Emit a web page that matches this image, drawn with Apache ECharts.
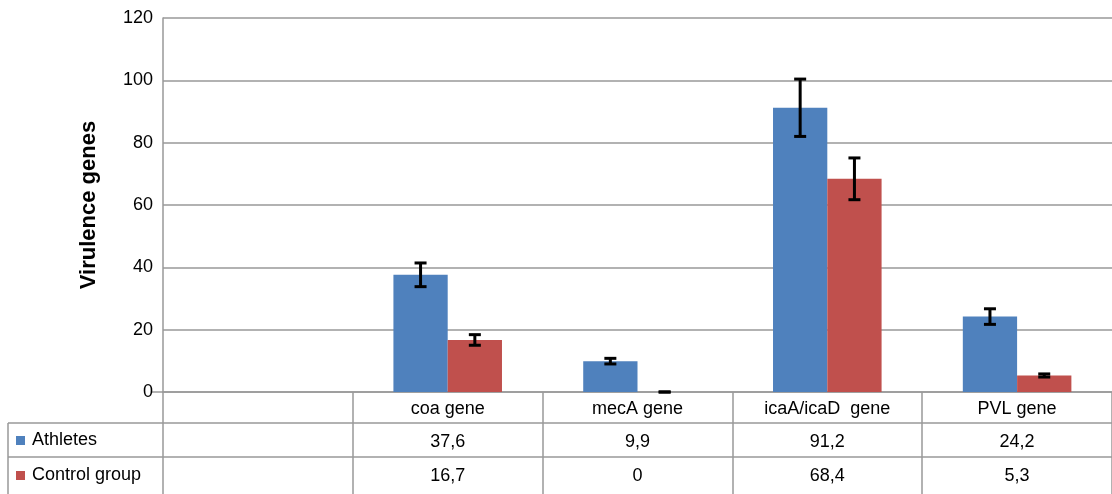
<!DOCTYPE html>
<html><head><meta charset="utf-8">
<script src="https://cdn.jsdelivr.net/npm/echarts@6/dist/echarts.min.js"></script>
<style>html,body{margin:0;padding:0;background:#fff}#c{width:1112px;height:494px}</style>
</head><body><div id="c"></div>
<script>
const categories = ['', 'coa gene', 'mecA gene', 'icaA/icaD  gene', 'PVL gene'];
const seriesNames = ['Athletes', 'Control group'];
const athletes = [null, 37.6, 9.9, 91.2, 24.2];
const control = [null, 16.7, 0, 68.4, 5.3];
const athletesErr = [null, 3.8, 0.9, 9.2, 2.5];
const controlErr = [null, 1.7, 0, 6.7, 0.5];
const yTicks = [0, 20, 40, 60, 80, 100, 120];

const BLUE = '#4f81bd', RED = '#c0504d', LINE = '#999999';
const FONT = 'Liberation Sans';
const G = {left: 163, top: 18, width: 952, height: 374};
const CAT_GAP = 0.428;
const fmt = v => v == null ? '' : String(v).replace('.', ',');

function errData(vals, errs) {
  return vals.map((v, i) => v == null ? null : [i, v - errs[i], v + errs[i]]).filter(d => d);
}
function errSeries(vals, errs, side) {
  return {
    type: 'custom', xAxisIndex: 0, yAxisIndex: 0, z: 5,
    data: errData(vals, errs),
    renderItem(params, api) {
      const i = api.value(0);
      const c = api.coord([i, 0])[0];
      const band = api.size([1, 0])[0];
      const bw = band * (1 - CAT_GAP) / 2;
      const x = c + side * bw / 2;
      const yt = api.coord([i, api.value(2)])[1];
      const yb = api.coord([i, api.value(1)])[1];
      const h = 6;
      const st = {stroke: '#000', lineWidth: 3};
      return {type: 'group', children: [
        {type: 'line', shape: {x1: x, y1: yt, x2: x, y2: yb}, style: st},
        {type: 'line', shape: {x1: x - h, y1: yt, x2: x + h, y2: yt}, style: st},
        {type: 'line', shape: {x1: x - h, y1: yb, x2: x + h, y2: yb}, style: st}
      ]};
    }
  };
}
const bottom = G.top + G.height;
const row1 = bottom + 31, row2 = bottom + 65, tableEnd = 494;
const rowLabelAxis = (vals, off) => ({
  type: 'category', data: categories, gridIndex: 0, position: 'bottom', offset: off,
  axisLine: {show: false}, axisTick: {show: false},
  axisLabel: {interval: 0, margin: 8, color: '#000', fontFamily: FONT, fontSize: 18,
    formatter: (v, idx) => fmt(vals[idx])}
});

const chart = echarts.init(document.getElementById('c'), null, {renderer: 'canvas'});
chart.setOption({
  animation: false,
  backgroundColor: '#fff',
  grid: G,
  xAxis: [
    {type: 'category', data: categories, gridIndex: 0,
     axisLine: {lineStyle: {color: LINE, width: 1.5}},
     axisTick: {show: true, length: tableEnd - bottom, lineStyle: {color: LINE, width: 1.5}},
     axisLabel: {interval: 0, margin: 8, color: '#000', fontFamily: FONT, fontSize: 18}},
    rowLabelAxis(athletes, 33),
    rowLabelAxis(control, 67)
  ],
  yAxis: {type: 'value', min: 0, max: 120, interval: 20,
    name: 'Virulence genes', nameLocation: 'middle', nameGap: 63, nameRotate: 90,
    nameTextStyle: {fontFamily: FONT, fontSize: 22, fontWeight: 'bold', color: '#000'},
    axisLine: {show: true, lineStyle: {color: LINE, width: 1.5}},
    axisTick: {show: false},
    splitLine: {lineStyle: {color: LINE, width: 1.5}},
    axisLabel: {margin: 10, color: '#000', fontFamily: FONT, fontSize: 18,
      formatter: v => yTicks.includes(v) ? String(v) : ''}},
  series: [
    {name: seriesNames[0], type: 'bar', data: athletes, barGap: '0%', barCategoryGap: (CAT_GAP*100)+'%',
     itemStyle: {color: BLUE}},
    {name: seriesNames[1], type: 'bar', data: control, barGap: '0%', barCategoryGap: (CAT_GAP*100)+'%',
     itemStyle: {color: RED}},
    errSeries(athletes, athletesErr, -1),
    errSeries(control, controlErr, 1)
  ],
  graphic: [
    {type: 'line', shape: {x1: 152, y1: bottom, x2: G.left, y2: bottom}, style: {stroke: LINE, lineWidth: 1.5}},
    {type: 'line', shape: {x1: 8, y1: row1, x2: 1112, y2: row1}, style: {stroke: LINE, lineWidth: 1.5}},
    {type: 'line', shape: {x1: 8, y1: row2, x2: 1112, y2: row2}, style: {stroke: LINE, lineWidth: 1.5}},
    {type: 'line', shape: {x1: 8, y1: row1, x2: 8, y2: tableEnd}, style: {stroke: LINE, lineWidth: 1.5}},
    {type: 'rect', shape: {x: 16, y: row1 + 13, width: 9, height: 9}, style: {fill: BLUE}},
    {type: 'rect', shape: {x: 16, y: row2 + 14, width: 9, height: 9}, style: {fill: RED}},
    {type: 'text', x: 32, y: row1 + 17, style: {text: seriesNames[0], font: '18px "Liberation Sans"', fill: '#000', verticalAlign: 'middle'}},
    {type: 'text', x: 32, y: row2 + 18, style: {text: seriesNames[1], font: '18px "Liberation Sans"', fill: '#000', verticalAlign: 'middle'}}
  ]
});
</script></body></html>
